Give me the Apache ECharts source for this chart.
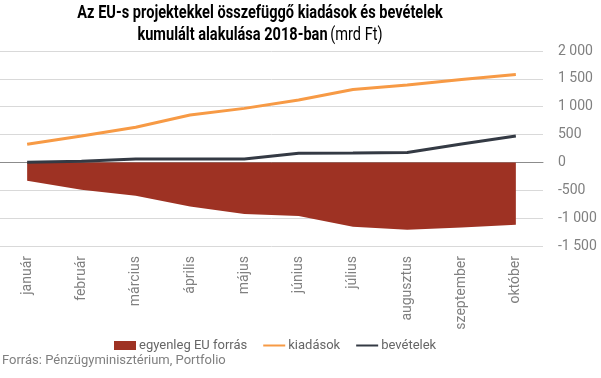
<!DOCTYPE html>
<html>
<head>
<meta charset="utf-8">
<script src="https://cdn.jsdelivr.net/npm/echarts@6/dist/echarts.min.js"></script>
<style>html,body{margin:0;padding:0;background:#fff}#c{width:601px;height:378px}</style>
</head>
<body>
<div id="c"></div>
<script>
const categories = ['január','február','március','április','május','június','július','augusztus','szeptember','október'];
const egyenleg = [-330, -490, -600, -790, -925, -960, -1155, -1210, -1170, -1120];
const kiadasok = [325, 475, 630, 850, 970, 1120, 1310, 1390, 1490, 1580];
const bevetelek = [5, 20, 60, 60, 60, 165, 170, 180, 330, 475];
const yTicks = {min: -1500, max: 2000, interval: 500};

const fmt = v => String(v).replace(/\B(?=(\d{3})+(?!\d))/g, ' ');
const FONT = 'Roboto';
const chart = echarts.init(document.getElementById('c'), null, {renderer: 'canvas'});
chart.setOption({
  animation: false,
  textStyle: {fontFamily: FONT},
  graphic: [{
    type: 'text', x: 260, y: 2, scaleX: 0.81,
    style: {
      text: '{b|Az EU-s projektekkel összefüggő kiadások és bevételek}\n{b|kumulált alakulása 2018-ban} {n|(mrd Ft)}',
      align: 'center',
      rich: {
        b: {fontFamily: FONT, fontWeight: 'bold', fontSize: 18, color: '#333333', lineHeight: 22},
        n: {fontFamily: FONT, fontWeight: 'normal', fontSize: 18, color: '#333333', lineHeight: 22}
      }
    }
  }],
  title: {
    text: 'Forrás: Pénzügyminisztérium, Portfolio',
    left: 2, top: 354, padding: 0,
    textStyle: {fontFamily: FONT, fontSize: 13, fontWeight: 'normal', color: '#808080'}
  },
  legend: {
    left: 114, top: 339, padding: 0, itemGap: 15, itemWidth: 22, itemHeight: 9,
    textStyle: {fontFamily: FONT, fontSize: 13, color: '#666666', padding: [0, 0, 0, -2]},
    data: [
      {name: 'egyenleg EU forrás', icon: 'rect'},
      {name: 'kiadások', itemStyle: {opacity: 0}},
      {name: 'bevételek', itemStyle: {opacity: 0}}
    ]
  },
  grid: {left: 0, right: 58, top: 51, bottom: 132, containLabel: false},
  xAxis: {
    type: 'category', data: categories, boundaryGap: true,
    axisLine: {show: true, onZero: true, lineStyle: {color: '#8c8c8c', width: 1}},
    axisTick: {show: false},
    axisLabel: {rotate: 90, margin: 10, fontFamily: FONT, fontSize: 14, color: '#808080', interval: 0}
  },
  yAxis: {
    type: 'value', position: 'right', min: yTicks.min, max: yTicks.max, interval: yTicks.interval,
    axisLine: {show: false}, axisTick: {show: false},
    splitLine: {lineStyle: {color: '#d9d9d9', width: 1}},
    axisLabel: {margin: 15, fontFamily: FONT, fontSize: 14, color: '#808080', formatter: fmt}
  },
  series: [
    {name: 'egyenleg EU forrás', type: 'line', data: egyenleg, symbol: 'none', color: '#9e3223',
     lineStyle: {width: 0}, areaStyle: {color: '#9e3223', opacity: 1}, z: 1},
    {name: 'kiadások', type: 'line', data: kiadasok, symbol: 'none', color: '#f79a45',
     lineStyle: {width: 3, color: '#f79a45'}, z: 3},
    {name: 'bevételek', type: 'line', data: bevetelek, symbol: 'none', color: '#343a44',
     lineStyle: {width: 3, color: '#343a44'}, z: 4}
  ]
});
</script>
</body>
</html>
